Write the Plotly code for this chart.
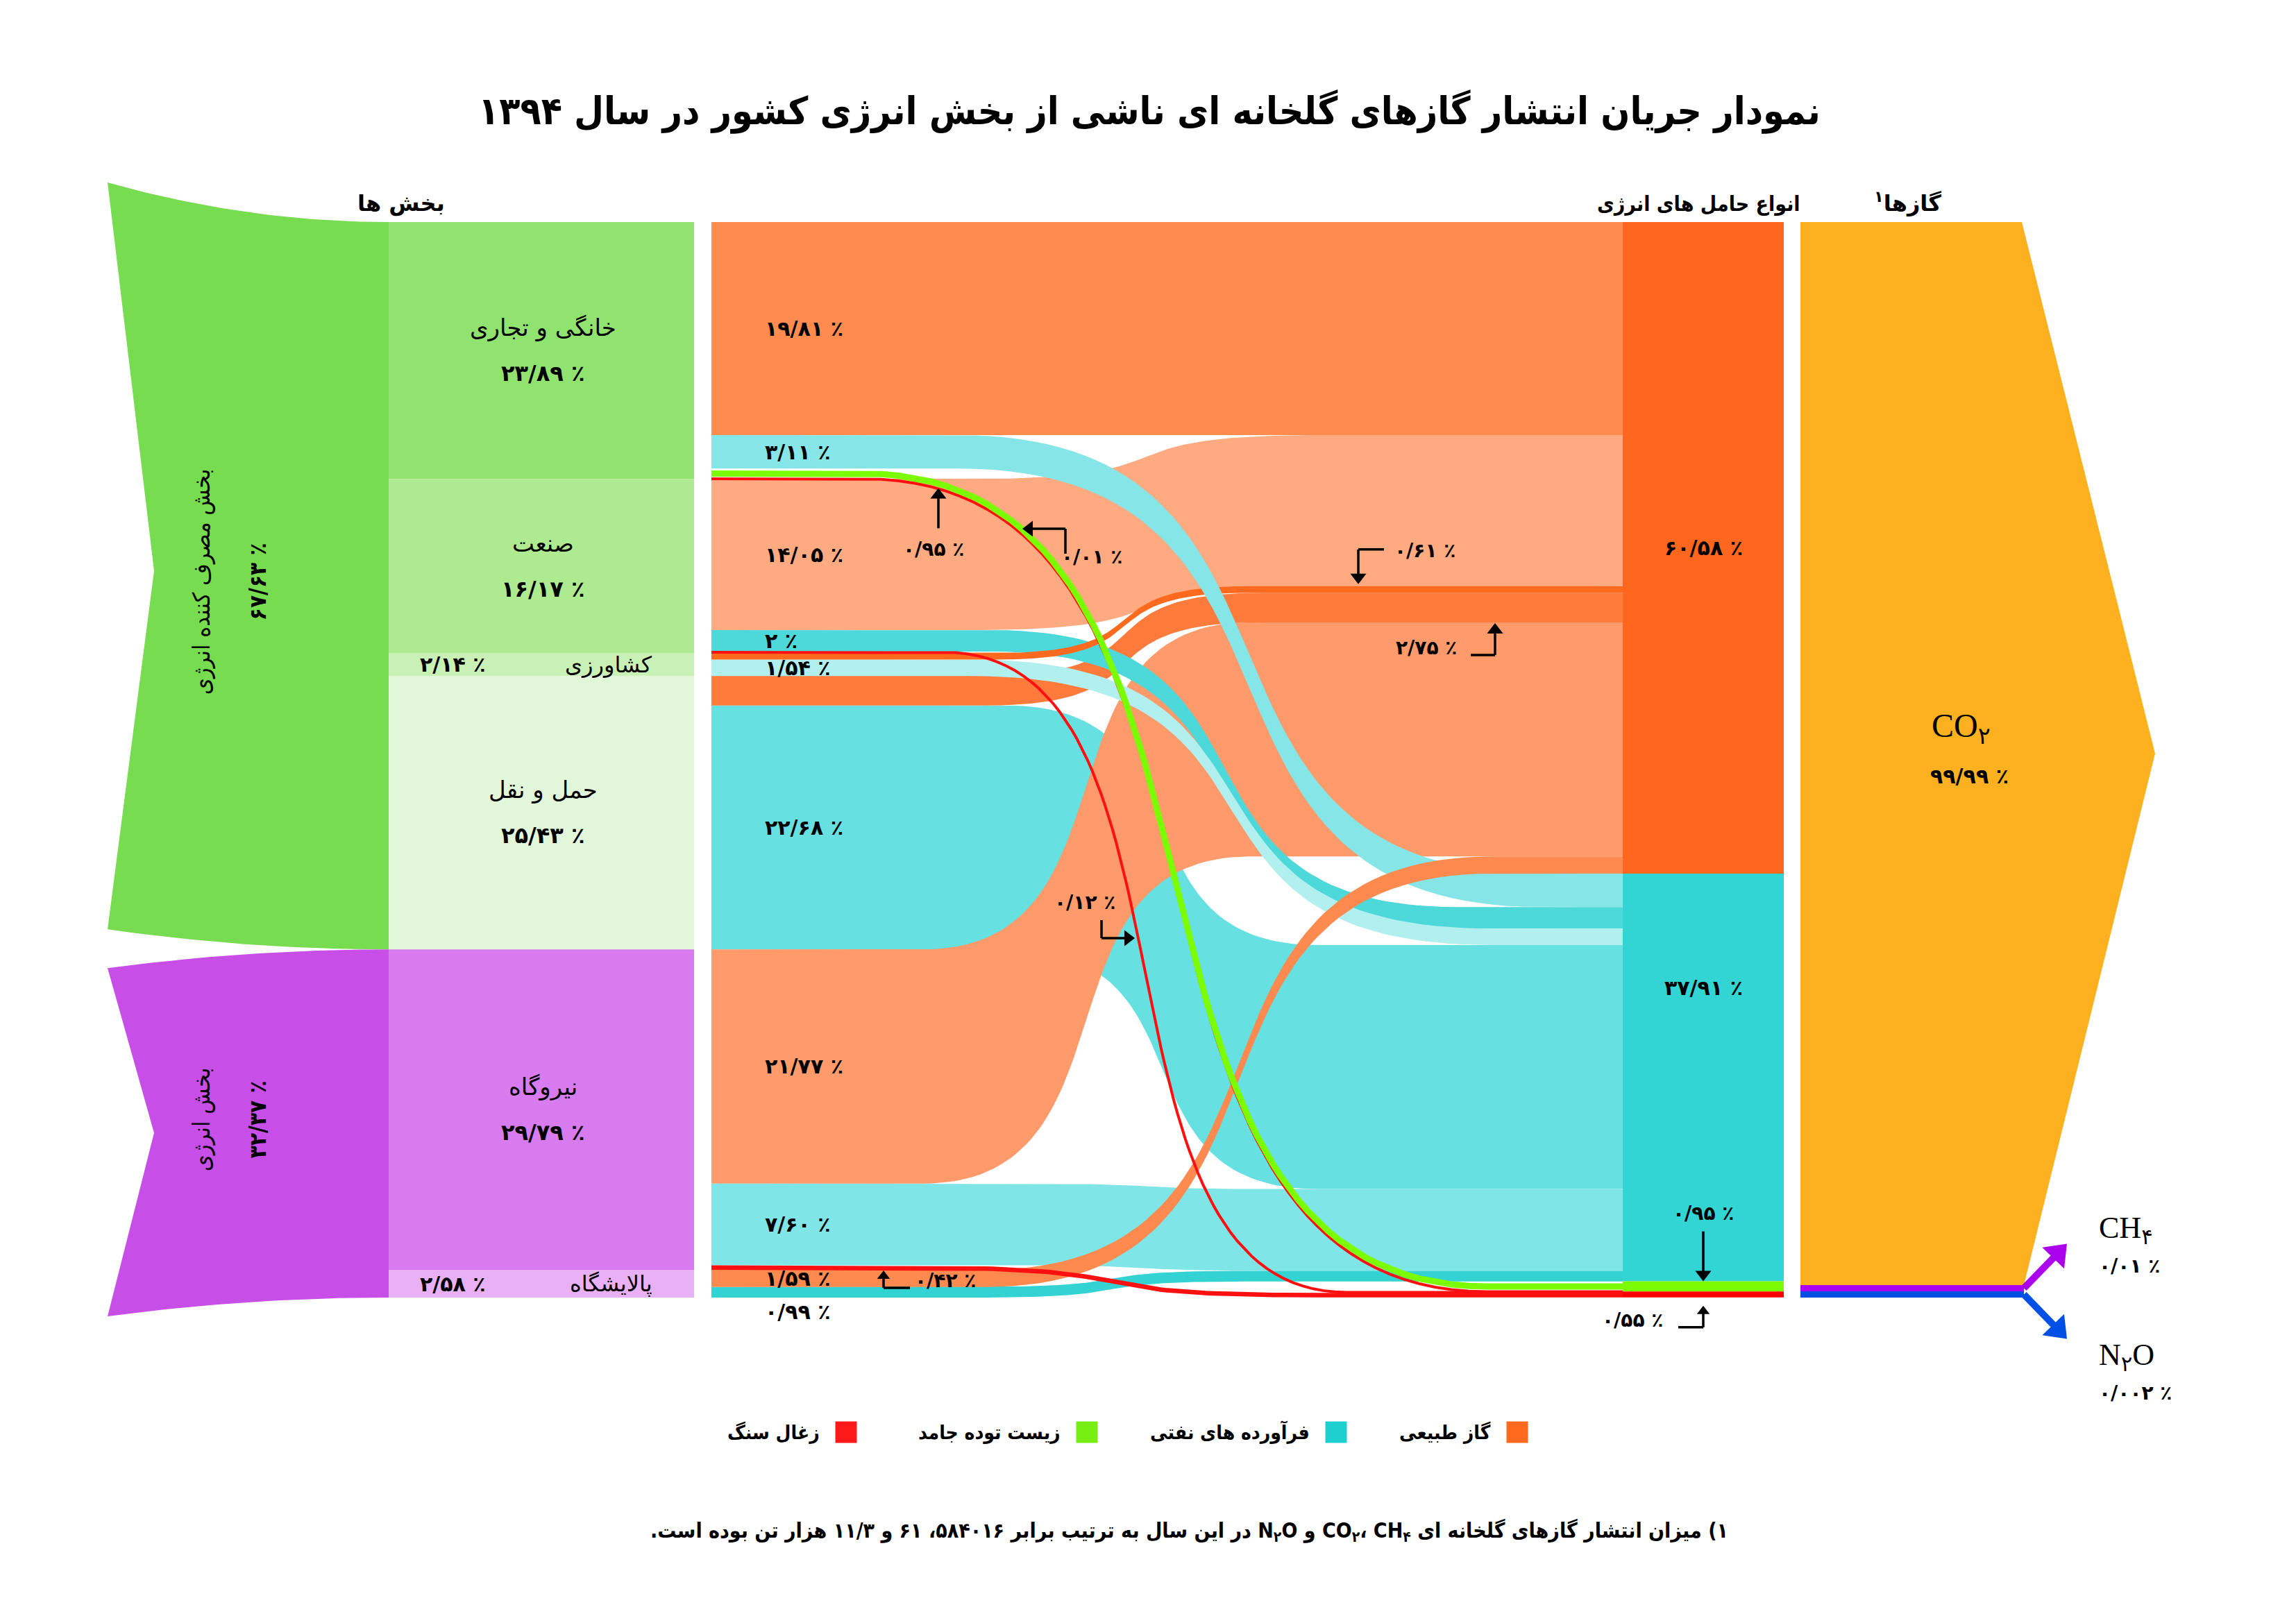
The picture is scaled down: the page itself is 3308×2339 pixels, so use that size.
import numpy as np
import plotly.graph_objects as go

# ---------------- data (share of total GHG emissions of the energy sector, %) ----------------
groups = ["بخش مصرف کننده انرژی", "بخش انرژی"]
group_share = [67.63, 32.37]

sectors = ["خانگی و تجاری", "صنعت", "کشاورزی", "حمل و نقل", "نیروگاه", "پالایشگاه"]
sector_share = [23.89, 16.17, 2.14, 25.43, 29.79, 2.58]

fuels = ["گاز طبیعی", "فرآورده های نفتی", "زیست توده جامد", "زغال سنگ"]
fuel_share = [60.58, 37.91, 0.95, 0.55]

# sector -> fuel flows, listed in the order they leave each sector (top to bottom)
flow_sector = [0, 0, 0, 0, 1, 1, 1, 2, 2, 3, 3, 4, 4, 4, 5, 5]
flow_fuel = [0, 1, 2, 3, 0, 1, 3, 0, 1, 0, 1, 0, 1, 3, 0, 1]
flow_value = [19.81, 3.11, 0.95, 0.01, 14.05, 2.00, 0.12, 0.61, 1.54,
              2.75, 22.68, 21.77, 7.60, 0.42, 1.59, 0.99]

gases = ["CO<sub>۲</sub>", "CH<sub>۴</sub>", "N<sub>۲</sub>O"]
gas_share = [99.99, 0.01, 0.002]

title = "نمودار جریان انتشار گازهای گلخانه ای ناشی از بخش انرژی کشور در سال ۱۳۹۴"
footnote = ("\u202b۱) میزان انتشار گازهای گلخانه ای CO<sub>۲</sub>، CH<sub>۴</sub> و N<sub>۲</sub>O "
            "در این سال به ترتیب برابر ۵۸۴۰۱۶، ۶۱ و ۱۱/۳ هزار تن بوده است.\u202c")

# ---------------- layout / style ----------------
W, H = 3308, 2339
PAD = 8                         # page margin of the html body
TOP, SCALE = 320, 15.5          # pixel of 0 % and pixels per 1 %
X_GRP, X_NOTCH, X_SEC0, X_SEC1 = 155, 222, 560, 1000
X_MID, X_FUEL0, X_FUEL1 = 1025, 2338, 2570
X_GAS0, X_GAS_TR, X_GAS_TIP, X_GAS_BR = 2594, 2913, 3105, 2916
K = 0.68                        # bezier control offset

FONT = "DejaVu Sans"
FONT_C = "DejaVu Sans Condensed, DejaVu Sans"
group_color = ["#77DC4F", "#C84EE8"]
group_flare = [(-57, -29), (27, 27)]
sector_color = ["#90E36F", "#ADEA90", "#C9F1B5", "#E2F6D9", "#D77BEF", "#E8B0F5"]
fuel_color = ["#FF661E", "#33D4D4", "#7CFC00", "#FF0000"]
gas_color = ["#FDB11E", "#AA00EE", "#0050E6"]
legend_color = ["#FF6A1F", "#1ECFD0", "#77EE11", "#FF1A1A"]
flow_color = ["#FF8B4F", "#86E5E6", "#7CFC00", "#FF1010", "#FFAA80", "#4DD8DA",
              "#FF1010", "#FF6A1F", "#B2EFEF", "#FF7B3C", "#66E0E0", "#FF9A6A",
              "#80E5E6", "#FF1010", "#FF8A4F", "#33D3D4"]
flow_span = [(1400, 1900), (1380, 2220), (1244, 2142), (1244, 2142), (1400, 1900),
             (1430, 2100), (1360, 1940), (1440, 1800), (1400, 2150), (1420, 1820),
             (1450, 1900), (1330, 1800), (1450, 1850), (1300, 1900), (1420, 2150),
             (1400, 1800)]
draw_order = [0, 4, 10, 11, 9, 12, 15, 5, 8, 7, 1, 14, 13, 6, 3, 2]
line_fuels = (2, 3)             # thin fuels drawn as lines

FA = str.maketrans("0123456789.", "۰۱۲۳۴۵۶۷۸۹/")


def fa(v):
    s = f"{v:.3f}" if v < 0.01 else f"{v:.2f}"
    if s.endswith(".00"):
        s = s[:-3]
    return s.translate(FA)


def pct(v):
    return fa(v) + " ٪"


def ypos(p):
    return TOP + p * SCALE


def bez(xa, xb, ya, yb, n=70):
    t = np.linspace(0, 1, n)
    c1, c2 = xa + K * (xb - xa), xb - K * (xb - xa)
    x = (1 - t) ** 3 * xa + 3 * (1 - t) ** 2 * t * c1 + 3 * (1 - t) * t ** 2 * c2 + t ** 3 * xb
    y = ((1 - t) ** 3 + 3 * (1 - t) ** 2 * t) * ya + (3 * (1 - t) * t ** 2 + t ** 3) * yb
    return x, y


def ease(x0, x1, y0, y1, n=40):
    s = np.linspace(0, 1, n)
    return x0 + (x1 - x0) * s, y1 + (y0 - y1) * (1 - s) ** 2


fig = go.Figure()
ann = []


def poly(xs, ys, color):
    fig.add_trace(go.Scatter(x=list(xs), y=list(ys), fill="toself", fillcolor=color,
                             mode="lines", line=dict(width=0, color=color),
                             hoverinfo="skip", showlegend=False))


def seg(xs, ys, color="black", width=3.5):
    fig.add_trace(go.Scatter(x=xs, y=ys, mode="lines", line=dict(width=width, color=color),
                             hoverinfo="skip", showlegend=False))


def txt(x, y, s, size, bold=False, xanchor="center", angle=0, family=FONT):
    ann.append(dict(x=x, y=y, xref="x", yref="y", text=f"<b>{s}</b>" if bold else s,
                    showarrow=False, xanchor=xanchor, yanchor="middle", textangle=angle,
                    font=dict(size=size, family=family, color="black")))


def arrow(xt, yt, xh, yh, color="black", width=3.5, head=20):
    d = np.hypot(xh - xt, yh - yt)
    ux, uy = (xh - xt) / d, (yh - yt) / d
    cx, cy = xh - ux * head / 2, yh - uy * head / 2
    seg([xt, cx], [yt, cy], color, width)
    fig.add_trace(go.Scatter(x=[cx], y=[cy], mode="markers",
                             marker=dict(symbol="triangle-up", size=head, color=color,
                                         angle=float(np.degrees(np.arctan2(ux, -uy))),
                                         line=dict(width=0)),
                             hoverinfo="skip", showlegend=False))


# ---------------- stacking ----------------
sec_top = [ypos(sum(sector_share[:i])) for i in range(len(sectors))]
sec_bot = [ypos(sum(sector_share[:i + 1])) for i in range(len(sectors))]
fuel_top = [ypos(sum(fuel_share[:i])) for i in range(len(fuels))]
fuel_bot = [ypos(sum(fuel_share[:i + 1])) for i in range(len(fuels))]

nf = len(flow_value)
left = [None] * nf
right = [None] * nf
cur = {}
for i in range(nf):
    s = flow_sector[i]
    y0 = cur.get(s, sec_top[s])
    left[i] = (y0, y0 + flow_value[i] * SCALE)
    cur[s] = left[i][1]
for f in range(len(fuels)):
    y0 = fuel_top[f]
    for i in sorted([j for j in range(nf) if flow_fuel[j] == f], key=lambda j: flow_sector[j]):
        right[i] = (y0, y0 + flow_value[i] * SCALE)
        y0 = right[i][1]


def center_y(i, x):
    xa, xb = flow_span[i]
    bx, by = bez(xa, xb, sum(left[i]) / 2, sum(right[i]) / 2, 200)
    return float(np.interp(x, bx, by))


def center_x(i, y):
    xa, xb = flow_span[i]
    bx, by = bez(xa, xb, sum(left[i]) / 2, sum(right[i]) / 2, 300)
    return float(np.interp(y, by, bx))


def line_w(i):
    return float(np.clip(flow_value[i] * SCALE, 4, 9))


# ---------------- group arrows and sector nodes ----------------
g_top = [ypos(sum(group_share[:i])) for i in range(len(groups))]
g_bot = [ypos(sum(group_share[:i + 1])) for i in range(len(groups))]
for g in range(len(groups)):
    ft, fb = group_flare[g]
    tx, ty = ease(X_GRP, X_SEC0, g_top[g] + ft, g_top[g])
    bx, by = ease(X_GRP, X_SEC0, g_bot[g] + fb, g_bot[g])
    mid = ((g_top[g] + g_bot[g]) / 2 + (g_top[g] + ft + g_bot[g] + fb) / 2) / 2
    xs = list(tx) + list(bx[::-1]) + [X_NOTCH, X_GRP]
    ys = list(ty) + list(by[::-1]) + [mid, g_top[g] + ft]
    poly(xs, ys, group_color[g])
    cy = (g_top[g] + g_bot[g]) / 2
    txt(290, cy - 6, groups[g], 34, angle=-90, family=FONT_C)
    txt(371, cy - 6, pct(group_share[g]), 33, bold=True, angle=-90, family=FONT_C)

for s in range(len(sectors)):
    poly([X_SEC0, X_SEC1, X_SEC1, X_SEC0], [sec_top[s], sec_top[s], sec_bot[s], sec_bot[s]],
         sector_color[s])
    cy = (sec_top[s] + sec_bot[s]) / 2
    if sector_share[s] > 5:
        txt(782, cy - 33, sectors[s], 34)
        txt(782, cy + 33, pct(sector_share[s]), 32, bold=True)
    else:
        txt(942, cy, sectors[s], 32, xanchor="right")
        txt(652, cy, pct(sector_share[s]), 30, bold=True)

# ---------------- flows ----------------
for i in draw_order:
    xa, xb = flow_span[i]
    if flow_fuel[i] in line_fuels:
        cx, cyv = bez(xa, xb, sum(left[i]) / 2, sum(right[i]) / 2)
        seg([X_MID] + list(cx) + [X_FUEL0], [sum(left[i]) / 2] + list(cyv) + [sum(right[i]) / 2],
            flow_color[i], line_w(i))
        continue
    tx, ty = bez(xa, xb, left[i][0], right[i][0])
    bx, by = bez(xa, xb, left[i][1], right[i][1])
    xs = [X_MID] + list(tx) + [X_FUEL0, X_FUEL0] + list(bx[::-1]) + [X_MID]
    ys = [left[i][0]] + list(ty) + [right[i][0], right[i][1]] + list(by[::-1]) + [left[i][1]]
    poly(xs, ys, flow_color[i])

# labels on the left part of the flows
label_dy = {15: 28}
for i in [0, 1, 4, 5, 8, 10, 11, 12, 14, 15]:
    txt(1100, sum(left[i]) / 2 + label_dy.get(i, 0), pct(flow_value[i]), 30, bold=True,
        xanchor="left")

# call-outs for the thin flows
# residential biomass
xh = 1352
yh = center_y(2, xh) + line_w(2) / 2 + 2
arrow(xh, yh + 58, xh, yh)
txt(1345, yh + 88, pct(flow_value[2]), 28, bold=True)
# residential coal
yh = 762
xh = center_x(3, yh) + 10
seg([xh + 62, xh + 62], [yh + 36, yh])
arrow(xh + 62, yh, xh, yh)
txt(xh + 100, yh + 40, pct(flow_value[3]), 28, bold=True)
# industry coal
yh = 1352
xh = center_x(6, yh) - 5
seg([xh - 48, xh - 48], [yh - 26, yh])
arrow(xh - 48, yh, xh, yh)
txt(xh - 72, yh - 52, pct(flow_value[6]), 28, bold=True)
# agriculture gas
xh, yh = 1957, right[7][0] - 3
seg([xh + 37, xh], [yh - 50, yh - 50])
arrow(xh, yh - 50, xh, yh)
txt(2007, yh - 48, pct(flow_value[7]), 28, bold=True, xanchor="left")
# transport gas
xh, yh = 2154, right[9][1] + 1
seg([xh - 35, xh], [yh + 46, yh + 46])
arrow(xh, yh + 46, xh, yh)
txt(2055, yh + 36, pct(flow_value[9]), 28, bold=True)
# power plant coal
xh, yh = 1273, sum(left[13]) / 2 + line_w(13) / 2 + 1
seg([xh + 38, xh], [yh + 25, yh + 25])
arrow(xh, yh + 25, xh, yh, head=16)
txt(1362, yh + 14, pct(flow_value[13]), 28, bold=True)

# ---------------- fuel nodes ----------------
for f in range(len(fuels)):
    poly([X_FUEL0, X_FUEL1, X_FUEL1, X_FUEL0], [fuel_top[f], fuel_top[f], fuel_bot[f], fuel_bot[f]],
         fuel_color[f])
xc = (X_FUEL0 + X_FUEL1) / 2
txt(xc, (fuel_top[0] + fuel_bot[0]) / 2, pct(fuel_share[0]), 30, bold=True)
txt(xc, fuel_top[1] + 0.28 * (fuel_bot[1] - fuel_top[1]), pct(fuel_share[1]), 30, bold=True)
arrow(xc, fuel_top[2] - 72, xc, fuel_top[2])
txt(xc, fuel_top[2] - 98, pct(fuel_share[2]), 28, bold=True)
yb = fuel_bot[3] + 12
seg([xc - 36, xc], [yb + 31, yb + 31])
arrow(xc, yb + 31, xc, yb, head=16)
txt(xc - 102, yb + 21, pct(fuel_share[3]), 28, bold=True)

# ---------------- gases ----------------
minor = [max(v * SCALE, 9) for v in gas_share[1:]]
g_bottom = ypos(sum(gas_share))
co2_bot = g_bottom - sum(minor)
tip_y = (TOP + co2_bot) / 2
poly([X_GAS0, X_GAS_TR, X_GAS_TIP, X_GAS_BR, X_GAS0], [TOP, TOP, tip_y, co2_bot, co2_bot],
     gas_color[0])
txt(2825, tip_y - 37, gases[0], 48, family="Liberation Serif, DejaVu Sans")
txt(2837, tip_y + 32, pct(gas_share[0]), 30, bold=True)
y0 = co2_bot
for k, v in enumerate(minor):
    poly([X_GAS0, X_GAS_BR, X_GAS_BR, X_GAS0], [y0, y0, y0 + v, y0 + v], gas_color[k + 1])
    yc = y0 + v / 2
    direction = -1 if k == 0 else 1
    hx, hy = X_GAS_BR + 62, yc + direction * 64
    arrow(X_GAS_BR, yc, hx, hy, color=gas_color[k + 1], width=10, head=38)
    ty = hy - 20 if k == 0 else hy + 26
    txt(3022, ty, gases[k + 1], 44, xanchor="left", family="Liberation Serif, DejaVu Sans")
    txt(3022, ty + 52, pct(gas_share[k + 1]), 28, bold=True, xanchor="left")
    y0 += v

# ---------------- headers, title, legend, footnote ----------------
txt(1656, 160, title, 55, bold=True, family=FONT_C)
txt(578, 293, "بخش ها", 32, bold=True)
txt(2447, 293, "انواع حامل های انرژی", 30, bold=True, family=FONT_C)
txt(2748, 291, "گازها<sup>۱</sup>", 32, bold=True)

legend_x = [2186, 1925, 1566, 1219]
fig.add_trace(go.Scatter(x=legend_x, y=[2064] * 4, mode="markers",
                         marker=dict(symbol="square", size=31, color=legend_color),
                         hoverinfo="skip", showlegend=False))
for f in range(len(fuels)):
    txt(legend_x[f] - 36, 2064, fuels[f], 28, bold=True, xanchor="right", family=FONT_C)

txt(1713, 2207, footnote, 30, bold=True, family=FONT_C)

fig.update_layout(
    width=W - 2 * PAD, height=H - 2 * PAD, margin=dict(l=0, r=0, t=0, b=0),
    paper_bgcolor="white", plot_bgcolor="white",
    xaxis=dict(range=[PAD, W - PAD], visible=False, fixedrange=True),
    yaxis=dict(range=[H - PAD, PAD], visible=False, fixedrange=True),
    annotations=ann, showlegend=False,
)
fig.write_html("out.html", config={"displayModeBar": False})
